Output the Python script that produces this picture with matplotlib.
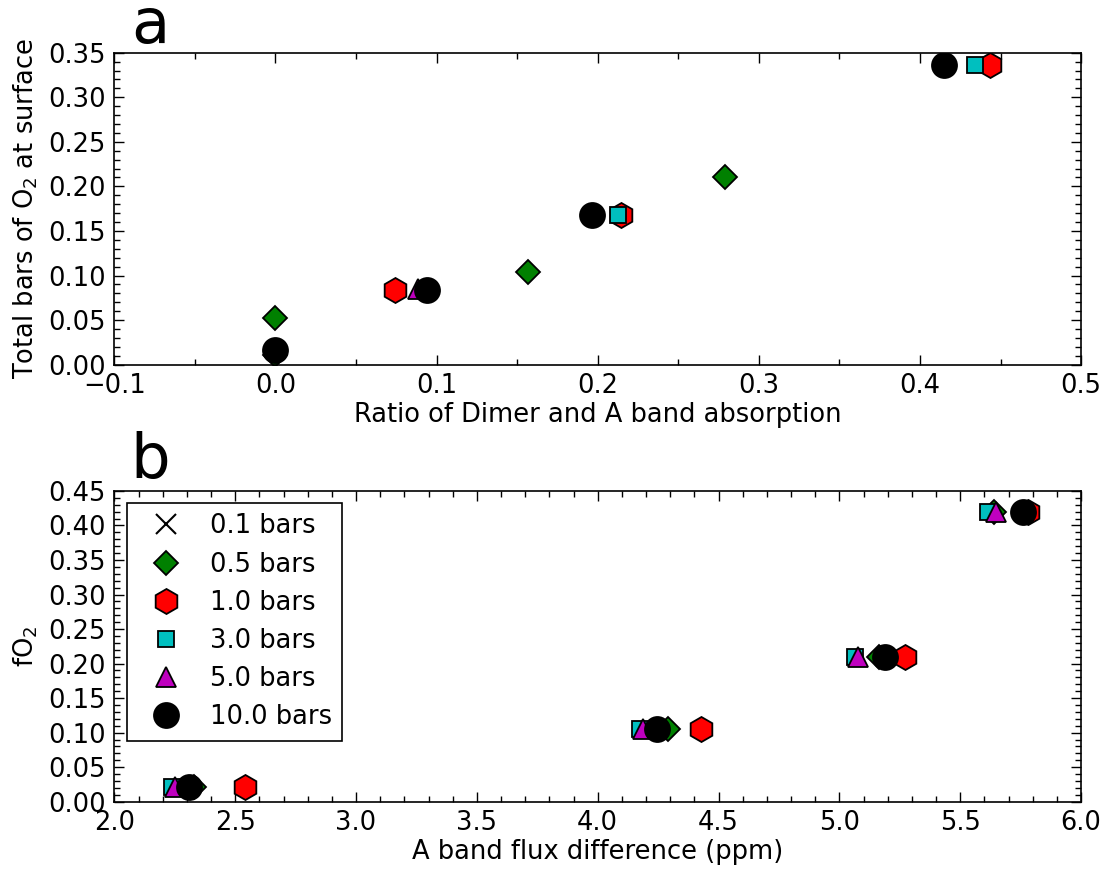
import matplotlib
matplotlib.use("Agg")
import matplotlib.pyplot as plt
from matplotlib.ticker import MultipleLocator, FuncFormatter

FS = 18.5
plt.rcParams['font.family'] = ['DejaVu Sans']
plt.rcParams['font.size'] = FS
plt.rcParams['mathtext.fontset'] = 'dejavusans'

labels = ["0.1 bars", "0.5 bars", "1.0 bars", "3.0 bars", "5.0 bars", "10.0 bars"]

# Panel a: ratio of dimer and A band absorption vs total bars of O2 at surface
a_x = {
    "0.1 bars": [],
    "0.5 bars": [0.0, 0.0, 0.157, 0.279],
    "1.0 bars": [0.0741, 0.2145, 0.4437],
    "3.0 bars": [0.2128, 0.434],
    "5.0 bars": [0.0886],
    "10.0 bars": [0.0, 0.0938, 0.1963, 0.4147],
}
a_y = {
    "0.1 bars": [],
    "0.5 bars": [0.0105, 0.0524, 0.1044, 0.21],
    "1.0 bars": [0.084, 0.168, 0.336],
    "3.0 bars": [0.168, 0.336],
    "5.0 bars": [0.085],
    "10.0 bars": [0.0168, 0.084, 0.168, 0.336],
}

# Panel b: A band flux difference vs fO2
fo2 = [0.021, 0.105, 0.21, 0.42]
b_x = {
    "0.1 bars": [],
    "0.5 bars": [2.33, 4.291, 5.163, 5.641],
    "1.0 bars": [2.541, 4.427, 5.272, 5.78],
    "3.0 bars": [2.2375, 4.174, 5.063, 5.615],
    "5.0 bars": [2.251, 4.189, 5.078, 5.648],
    "10.0 bars": [2.31, 4.247, 5.189, 5.761],
}

styles = {
    "0.1 bars": dict(marker='x', color='k', ms=14, mew=1.5),
    "0.5 bars": dict(marker='D', mfc='g', mec='k', ms=12.5, mew=1.3),
    "1.0 bars": dict(marker='h', mfc='r', mec='k', ms=18, mew=1.3),
    "3.0 bars": dict(marker='s', mfc='c', mec='k', ms=12, mew=1.3),
    "5.0 bars": dict(marker='^', mfc='m', mec='k', ms=15, mew=1.3),
    "10.0 bars": dict(marker='o', mfc='k', mec='k', ms=18, mew=1.3),
}

fig = plt.figure(figsize=(11.07, 8.73), dpi=100)
ax1 = fig.add_axes([0.1033, 0.5823, 0.8733, 0.3573])
ax2 = fig.add_axes([0.1033, 0.0817, 0.8733, 0.3559])

for lab in labels:
    ax1.plot(a_x[lab], a_y[lab], ls='none', label=lab, **styles[lab])
    ax2.plot(b_x[lab], fo2 if b_x[lab] else [], ls='none', label=lab, **styles[lab])

ax1.set_xlim(-0.1, 0.5)
ax1.set_ylim(0, 0.35)
ax1.xaxis.set_major_locator(MultipleLocator(0.1))
ax1.xaxis.set_minor_locator(MultipleLocator(0.05))
ax1.yaxis.set_major_locator(MultipleLocator(0.05))
ax1.yaxis.set_minor_locator(MultipleLocator(0.01))
ax1.set_xlabel("Ratio of Dimer and A band absorption", labelpad=2)
ax1.set_ylabel("Total bars of O$_2$ at surface", labelpad=6)

ax2.set_xlim(2.0, 6.0)
ax2.set_ylim(0, 0.45)
ax2.xaxis.set_major_locator(MultipleLocator(0.5))
ax2.xaxis.set_minor_locator(MultipleLocator(0.1))
ax2.yaxis.set_major_locator(MultipleLocator(0.05))
ax2.yaxis.set_minor_locator(MultipleLocator(0.01))
ax2.set_xlabel("A band flux difference (ppm)", labelpad=2)
ax2.set_ylabel("fO$_2$", labelpad=6)

for ax in (ax1, ax2):
    ax.tick_params(which='both', direction='in', top=True, right=True, labelsize=FS, pad=6)
    ax.tick_params(which='major', length=7, width=1)
    ax.tick_params(which='minor', length=4, width=1)
    for sp in ax.spines.values():
        sp.set_linewidth(1.2)

ax1.xaxis.set_major_formatter(FuncFormatter(lambda v, p: f"{v:.1f}".replace('-', '\u2212')))
ax2.xaxis.set_major_formatter(FuncFormatter(lambda v, p: f"{v:.1f}"))
for ax in (ax1, ax2):
    ax.yaxis.set_major_formatter(FuncFormatter(lambda v, p: f"{v:.2f}"))

leg = ax2.legend(loc='upper left', bbox_to_anchor=(0.0131, 0.961), borderaxespad=0,
                 numpoints=1, fontsize=FS, fancybox=False, framealpha=1,
                 edgecolor='k', labelspacing=0.475, handletextpad=0.62, handlelength=2.2,
                 borderpad=0.4)
leg.get_frame().set_linewidth(1.2)

fig.text(131/1107, 1 - 43/873, "a", fontsize=45, ha='left', va='baseline')
fig.text(130/1107, 1 - 478/873, "b", fontsize=45, ha='left', va='baseline')

fig.savefig("out.png", dpi=100)
